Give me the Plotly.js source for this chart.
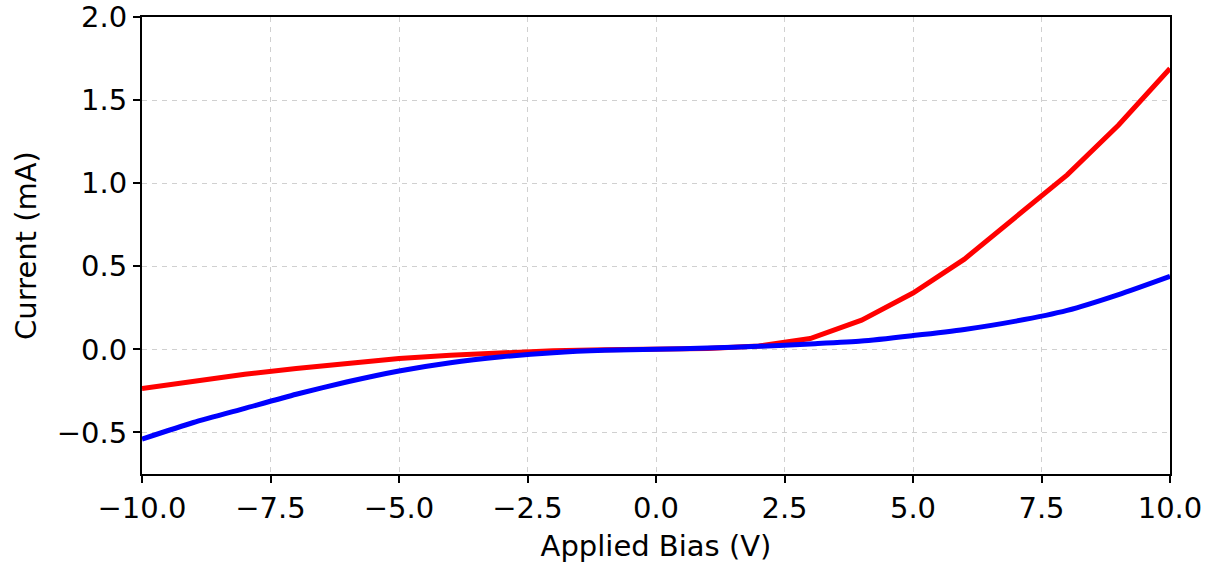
<!DOCTYPE html>
<html>
<head>
<meta charset="utf-8">
<script src="https://cdn.plot.ly/plotly-3.0.1.min.js"></script>
<style>html,body{margin:0;padding:0;background:#fff;}#chart{width:1216px;height:567px;}</style>
</head>
<body>
<div id="chart"></div>
<script>
const bias = [-10,-9,-8,-7,-6,-5,-4,-3,-2,-1,0,1,2,3,4,5,6,7,8,9,10];
const currentRed = [-0.235,-0.19,-0.15,-0.115,-0.082,-0.055,-0.035,-0.018,-0.008,-0.002,0,0.005,0.02,0.065,0.176,0.339,0.543,0.80,1.05,1.35,1.69];
const currentBlue = [-0.54,-0.44,-0.355,-0.27,-0.195,-0.13,-0.08,-0.045,-0.02,-0.006,0,0.008,0.018,0.033,0.05,0.083,0.12,0.17,0.235,0.33,0.44];
const xTitle = 'Applied Bias (V)';
const yTitle = 'Current (mA)';

const font = {family: 'DejaVu Sans, Verdana, sans-serif', size: 29, color: '#000'};
const traces = [
  {x: bias, y: currentRed, mode: 'lines', line: {color: '#ff0000', width: 5}, showlegend: false, hoverinfo: 'skip'},
  {x: bias, y: currentBlue, mode: 'lines', line: {color: '#0000ff', width: 5, shape: 'spline', smoothing: 0.6}, showlegend: false, hoverinfo: 'skip'}
];
const axisCommon = {
  showline: true, linecolor: '#000', linewidth: 2, mirror: true,
  ticks: 'outside', ticklen: 7, tickwidth: 2, tickcolor: '#000',
  showgrid: true, gridcolor: '#d0d0d0', gridwidth: 1, griddash: '5px,5px',
  zeroline: false, tickfont: font, tickformat: '.1f'
};
const layout = {
  width: 1216, height: 567,
  margin: {l: 142, r: 46, t: 17, b: 93},
  paper_bgcolor: '#fff', plot_bgcolor: '#fff',
  font: font,
  xaxis: Object.assign({}, axisCommon, {range: [-10, 10], dtick: 2.5, tick0: 0, title: {text: xTitle, font: font, standoff: 12}}),
  yaxis: Object.assign({}, axisCommon, {range: [-0.75, 2.0], dtick: 0.5, tick0: 0, title: {text: yTitle, font: font, standoff: 12}})
};
Plotly.newPlot('chart', traces, layout, {staticPlot: true});
</script>
</body>
</html>
